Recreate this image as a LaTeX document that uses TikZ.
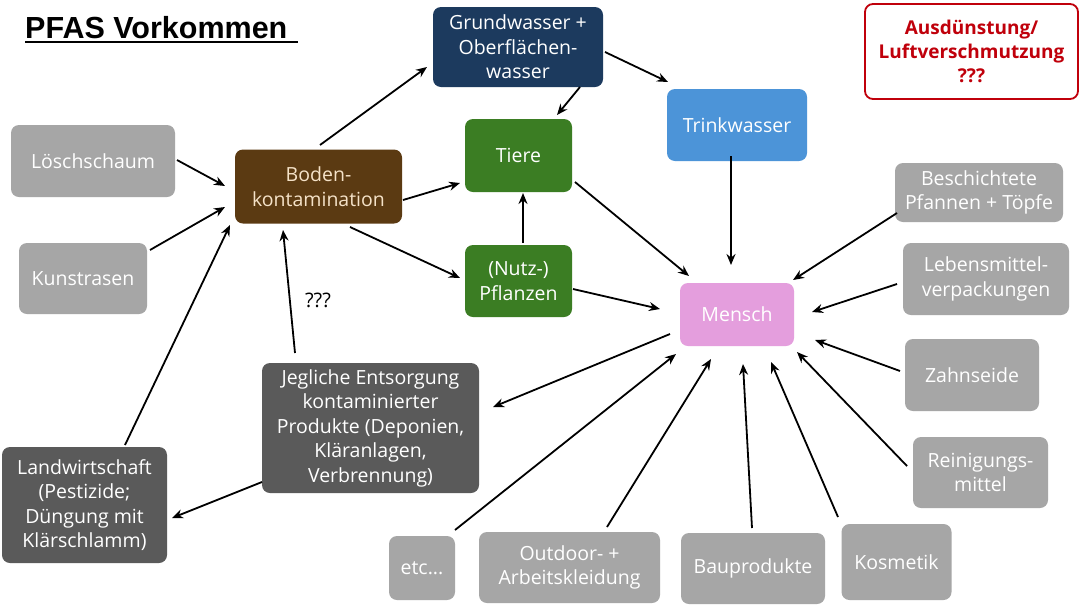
\documentclass[tikz,border=0pt]{standalone}
\usepackage{fontspec}
\setmainfont{Open Sans}
\newfontfamily\titlefont{Liberation Sans}
\usetikzlibrary{arrows.meta}
\definecolor{navy}{HTML}{1C3A5E}
\definecolor{skyb}{HTML}{4C94D8}
\definecolor{leaf}{HTML}{3B7D23}
\definecolor{soil}{HTML}{5B3A12}
\definecolor{soiltext}{HTML}{F5E2C8}
\definecolor{pinkm}{HTML}{E49EDD}
\definecolor{lgray}{HTML}{A6A6A6}
\definecolor{dgray}{HTML}{5A5A5A}
\definecolor{alarm}{HTML}{C0000B}
\begin{document}
\begin{tikzpicture}[x=1pt,y=-1pt,
  box/.style={rounded corners=8pt, align=center, text=white, inner sep=0pt,
    font=\fontsize{19.5}{24.5}\selectfont},
  grey/.style={box, fill=lgray},
  dark/.style={box, fill=dgray},
  arr/.style={-{Stealth[length=11pt,width=9pt]}, line width=1.8pt}]
\useasboundingbox (0,0) rectangle (1081,606);
\fill[white] (0,0) rectangle (1081,606);

% title
\node[anchor=base west, inner sep=0pt, font=\titlefont\bfseries\fontsize{30.5}{36}\selectfont] (title) at (25,38) {PFAS Vorkommen};
\draw[line width=1.8pt] ([yshift=-4pt]title.base west) -- ([xshift=10pt,yshift=-4pt]title.base east);

% nodes
\node[box, fill=navy, minimum width=170pt, minimum height=80pt] (grund) at (518,47) {Grundwasser +\\Oberflächen-\\wasser};
\node[box, draw=alarm, line width=1.8pt, fill=white, text=alarm, font=\bfseries\fontsize{19}{24}\selectfont, minimum width=213pt, minimum height=95pt] (aus) at (971.5,51.5) {Ausdünstung/\\Luftverschmutzung\\???};
\node[box, fill=skyb, minimum width=140pt, minimum height=72pt] (trink) at (737,125) {Trinkwasser};
\node[box, fill=leaf, minimum width=107pt, minimum height=73pt] (tiere) at (518.5,155.5) {Tiere};
\node[box, fill=soil, text=soiltext, minimum width=167pt, minimum height=74pt] (boden) at (318.5,186.5) {Boden-\\kontamination};
\node[grey, minimum width=164pt, minimum height=72pt] (losch) at (93,161) {Löschschaum};
\node[grey, minimum width=128pt, minimum height=71pt] (kunst) at (83,278.5) {Kunstrasen};
\node[box, fill=leaf, minimum width=107pt, minimum height=72pt] (pflanz) at (518.5,281) {(Nutz-)\\Pflanzen};
\node[box, fill=pinkm, minimum width=114pt, minimum height=63pt] (mensch) at (737,314.5) {Mensch};
\node[grey, minimum width=168pt, minimum height=59pt] (besch) at (979,192.5) {Beschichtete\\Pfannen + Töpfe};
\node[grey, minimum width=166pt, minimum height=72pt] (lebens) at (986,279) {Lebensmittel-\\verpackungen};
\node[grey, minimum width=134pt, minimum height=72pt] (zahn) at (972,375) {Zahnseide};
\node[grey, minimum width=135pt, minimum height=71pt] (rein) at (980.5,472.5) {Reinigungs-\\mittel};
\node[grey, minimum width=110pt, minimum height=76pt] (kosm) at (896.5,562) {Kosmetik};
\node[grey, minimum width=144pt, minimum height=71pt] (bau) at (753,568.5) {Bauprodukte};
\node[grey, minimum width=181pt, minimum height=71pt] (outd) at (569.5,567.5) {Outdoor- +\\Arbeitskleidung};
\node[grey, minimum width=66pt, minimum height=64pt] (etc) at (422,568) {etc...};
\node[dark, minimum width=165pt, minimum height=116pt] (land) at (84.5,505) {Landwirtschaft\\(Pestizide;\\Düngung mit\\Klärschlamm)};
\node[dark, minimum width=217pt, minimum height=130pt] (jeg) at (370.5,428) {Jegliche Entsorgung\\kontaminierter\\Produkte (Deponien,\\Kläranlagen,\\Verbrennung)};
\node[inner sep=0pt, font=\fontsize{20}{24}\selectfont] (q) at (318,300) {???};

% connectors
\draw[arr] ([shift={(1.5,-41.5)}]boden.center) -- ([shift={(-91,20)}]grund.center);
\draw[arr] ([shift={(87,5)}]grund.center) -- ([shift={(-69,-43)}]trink.center);
\draw[arr] ([shift={(62,40)}]grund.center) -- ([shift={(38.5,-40.5)}]tiere.center);
\draw[arr] ([shift={(-6,31)}]trink.center) -- ([shift={(-6,-49.5)}]mensch.center);
\draw[arr] ([shift={(56.5,26.5)}]tiere.center) -- ([shift={(-48,-38.5)}]mensch.center);
\draw[arr] ([shift={(84.5,13.5)}]boden.center) -- ([shift={(-58.5,27.5)}]tiere.center);
\draw[arr] ([shift={(4.5,-38)}]pflanz.center) -- ([shift={(4.5,37.5)}]tiere.center);
\draw[arr] ([shift={(31.5,40.5)}]boden.center) -- ([shift={(-58.5,-3)}]pflanz.center);
\draw[arr] ([shift={(54.5,8)}]pflanz.center) -- ([shift={(-77,-5.5)}]mensch.center);
\draw[arr] ([shift={(84,-1)}]losch.center) -- ([shift={(-93.5,-0.5)}]boden.center);
\draw[arr] ([shift={(67,-28.5)}]kunst.center) -- ([shift={(-93.5,20.5)}]boden.center);
\draw[arr] ([shift={(40.5,-60)}]land.center) -- ([shift={(-88.5,38.5)}]boden.center);
\draw[arr] ([shift={(-75.5,-75)}]jeg.center) -- ([shift={(-35.5,43.5)}]boden.center);
\draw[arr] ([shift={(-108.5,54)}]jeg.center) -- ([shift={(87.5,13)}]land.center);
\draw[arr] ([shift={(-67,19.5)}]mensch.center) -- ([shift={(122.5,-21)}]jeg.center);
\draw[arr] ([shift={(33,-38)}]etc.center) -- ([shift={(-61,39.5)}]mensch.center);
\draw[arr] ([shift={(37.5,-40.5)}]outd.center) -- ([shift={(-26,44.5)}]mensch.center);
\draw[arr] ([shift={(-1,-40.5)}]bau.center) -- ([shift={(6,49.5)}]mensch.center);
\draw[arr] ([shift={(-58.5,-45)}]kosm.center) -- ([shift={(34,47.5)}]mensch.center);
\draw[arr] ([shift={(-73.5,-6.5)}]rein.center) -- ([shift={(60,37.5)}]mensch.center);
\draw[arr] ([shift={(-72,-4)}]zahn.center) -- ([shift={(78,25.5)}]mensch.center);
\draw[arr] ([shift={(-89,5)}]lebens.center) -- ([shift={(75,-2.5)}]mensch.center);
\draw[arr] ([shift={(-82,20.5)}]besch.center) -- ([shift={(56,-34.5)}]mensch.center);
\end{tikzpicture}
\end{document}
